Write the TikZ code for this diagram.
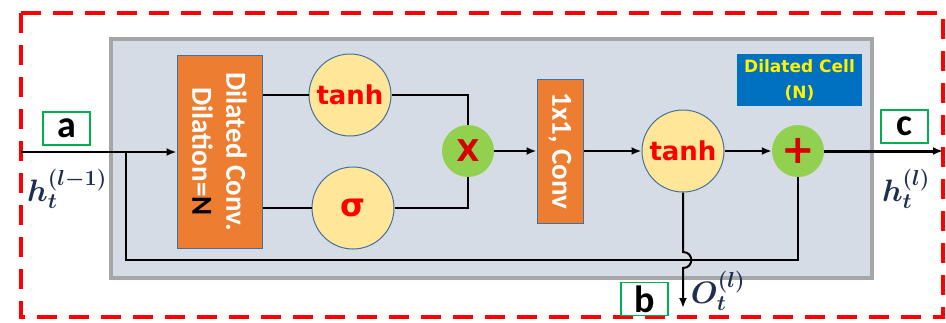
\documentclass[tikz,border=0pt]{standalone}
\usepackage{fix-cm}
\usepackage{amsmath,bm}
\usepackage[no-math]{fontspec}
\setmainfont{Carlito}
\newfontfamily\gatefont{DejaVu Sans}
\usetikzlibrary{arrows.meta, positioning, calc}
\definecolor{cellfill}{HTML}{D6DCE5}
\definecolor{cellline}{HTML}{A6A6A6}
\definecolor{convfill}{HTML}{ED7D31}
\definecolor{convline}{HTML}{41719C}
\definecolor{gatefill}{HTML}{FFE699}
\definecolor{opfill}{HTML}{92D050}
\definecolor{tagline}{HTML}{00B050}
\definecolor{lblblue}{HTML}{0070C0}
\definecolor{mathnavy}{HTML}{1F2D50}
\tikzset{
    frame/.style={draw=red, line width=4pt, dash pattern=on 20pt off 12pt},
    cellbox/.style={rectangle, fill=cellfill, draw=cellline, line width=3.5pt, minimum width=761pt, minimum height=239pt},
    convbox/.style={rectangle, fill=convfill, draw=convline, line width=1pt},
    convtext/.style={rotate=-90, text=white, font=\bfseries\fontsize{29}{34}\selectfont, align=center, inner sep=0pt},
    gate/.style={circle, fill=gatefill, draw=convline, line width=1pt, minimum size=82pt, inner sep=0pt, text=red, font=\gatefont\bfseries\fontsize{26}{26}\selectfont},
    opnode/.style={circle, fill=opfill, minimum size=52pt, inner sep=0pt, text=red!85!black, font=\gatefont\bfseries\fontsize{30}{30}\selectfont},
    tagbox/.style={rectangle, draw=tagline, line width=1.5pt, fill=white, minimum width=47pt, minimum height=33pt, inner sep=0pt, font=\bfseries\fontsize{38}{38}\selectfont},
    mathlbl/.style={text=mathnavy, inner sep=0pt, font=\fontsize{31}{31}\selectfont},
    wire/.style={line width=2pt},
    arrow/.style={-{Latex[length=10pt, width=8pt]}, line width=2pt},
}
\begin{document}
\begin{tikzpicture}[x=1pt, y=-1pt]
\useasboundingbox (0,0) rectangle (946,322);
\draw[frame] (21,13) rectangle (943,317);
\node[cellbox] (cell) at (491.5,158.5) {};
\node[rectangle, fill=lblblue, minimum width=125pt, minimum height=52pt, inner sep=0pt, text=yellow, align=center, font=\gatefont\bfseries\fontsize{17}{26}\selectfont] (celllbl) at (799.5,80) {Dilated Cell\\(N)};
% dilated convolution and gates
\node[convbox, minimum width=85pt, minimum height=193pt] (dconv) at (219.5,151.5) {};
\node[convtext] (dconvtxt) at (dconv) {Dilated Conv.\\Dilation={\color{black}N}};
\node[gate] (tanhA) at (350,95) {tanh};
\node[gate, font=\gatefont\bfseries\fontsize{32}{32}\selectfont] (sig) at (353,208) {σ};
\node[opnode] (mult) at (468,151) {X};
\node[convbox, minimum width=46pt, minimum height=144pt] (pconv) at (560,151) {};
\node[convtext] (pconvtxt) at (pconv) {1x1, Conv};
\node[gate] (tanhB) at (683,151) {tanh};
\node[opnode, font=\gatefont\bfseries\fontsize{40}{40}\selectfont] (plus) at (798,151) {+};
% tags and signals
\node[tagbox] (taga) at (66.5,128.5) {a};
\node[tagbox] (tagb) at (644.5,299) {b};
\node[tagbox] (tagc) at (904.5,126.5) {c};
\node[mathlbl] (hin) at (67,189) {$\bm{h_t^{(l-1)}}$};
\node[mathlbl] (hout) at (906,189) {$\bm{h_t^{(l)}}$};
\node[mathlbl] (oout) at (718,291) {$\bm{O_t^{(l)}}$};
\coordinate (in) at (21,152);
\coordinate (fork) at (126,152);
\coordinate (skip) at (126,260);
\coordinate (out) at (943,151);
\coordinate (obot) at (683,308);
\coordinate (hop) at ($(tanhB.south |- skip)+(0,-8)$);
\draw[arrow] (in) -- (in -| dconv.west);
\draw[wire] (fork) -- (skip) -| (plus.south);
\draw[wire] (dconv.east |- tanhA) -- (tanhA.west);
\draw[wire] (dconv.east |- sig) -- (sig.west);
\draw[wire] (tanhA.east) -| (mult.north);
\draw[wire] (sig.east) -| (mult.south);
\draw[arrow] (mult) -- (pconv);
\draw[arrow] (pconv) -- (tanhB);
\draw[arrow] (tanhB) -- (plus);
\draw[arrow, line width=3pt] (plus) -- (out);
\draw[arrow] (tanhB.south) -- (hop) .. controls +(11,0) and +(11,0) .. ++(0,16) -- (obot);
\end{tikzpicture}
\end{document}
